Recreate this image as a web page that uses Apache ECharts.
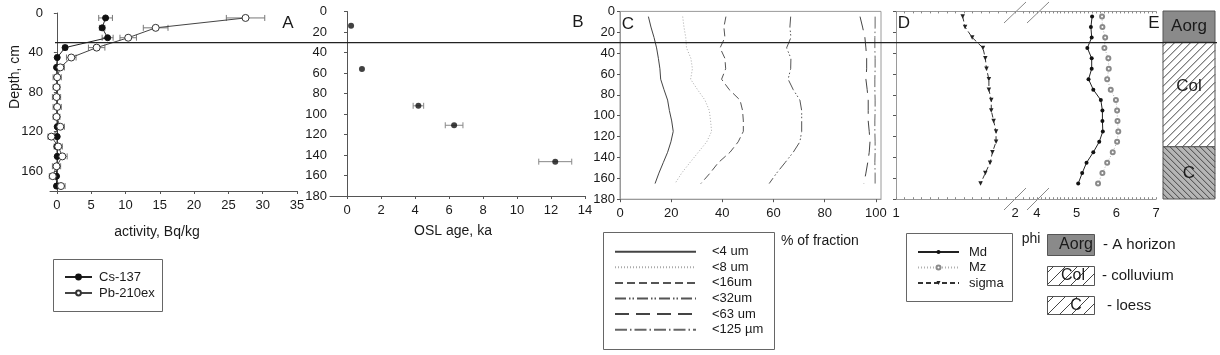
<!DOCTYPE html>
<html><head><meta charset="utf-8">
<script src="https://cdn.jsdelivr.net/npm/echarts@6/dist/echarts.min.js"></script>
<style>html,body{margin:0;padding:0;background:#fff}#c{width:1220px;height:355px}</style>
</head><body><div id="c"></div>
<script>
// ---------- DATA ----------
// Panel A: radionuclide activity profile
const depthsA = [5,15,25,35,45,55,65,75,85,95,105,115,125,135,145,155,165,175];
const cs137 = [7.1,6.6,7.4,1.2,0.05,-0.05,0,0,0,0,0,0.05,0.05,0,0.05,0,-0.05,-0.05];
const cs137Err = [1.0,0.4,0.8,0.3,0.2,0.2,0.2,0.2,0.2,0.2,0.2,0.2,0.2,0.2,0.2,0.2,0.2,0.2];
const pb210 = [27.5,14.4,10.4,5.8,2.1,0.5,0.05,-0.05,-0.05,0.05,-0.05,0.5,-0.8,0.2,0.8,-0.05,-0.6,0.6];
const pb210Err = [2.8,1.8,1.2,1.2,0.7,0.6,0.6,0.5,0.6,0.6,0.5,0.6,0.5,0.6,0.7,0.6,0.5,0.6];
// Panel B: OSL ages
const oslAge = [0.24,0.88,4.2,6.3,12.25];
const oslDepth = [14,56,92,111,146.5];
const oslErr = [0,0,0.31,0.52,0.97];
// Panel C: cumulative grain-size fractions (%)
const depthsC = [5,15,25,35,45,55,65,75,85,95,105,115,125,135,145,155,165];
const frac4 = [11.1,12.1,13.3,14.3,15.0,15.6,15.9,17.2,18.6,19.3,20.2,20.8,19.9,18.6,16.9,15.2,13.7];
const frac8 = [24.5,25.0,25.7,26.0,27.7,28.3,27.6,30.3,33.2,34.9,35.4,35.8,33.9,30.6,27.3,24.1,21.5];
const frac16 = [41.4,40.6,41.0,39.1,41.0,41.3,39.7,42.7,46.9,47.9,48.2,48.2,46.2,43.0,38.4,35.2,31.6];
const frac32 = [66.7,66.4,66.8,65.1,66.8,66.7,65.7,67.7,70.3,71.0,71.0,71.0,70.3,67.7,64.5,61.2,58.3];
const frac63 = [93.8,94.8,95.7,96.1,96.4,96.4,96.1,96.6,97.0,97.0,97.0,97.4,97.7,97.4,96.8,96.1,95.3];
const frac125 = [99.7,99.7,99.6,99.6,99.7,99.7,99.6,99.6,99.7,99.7,99.6,99.6,99.7,99.7,99.6,99.7,99.7];
const fractionNames = ['<4 um','<8 um','<16um','<32um','<63 um','<125 µm'];
// Panel D: grain size parameters (phi)
const mdPhi = [5.39,5.36,5.38,5.27,5.38,5.38,5.30,5.42,5.61,5.65,5.65,5.66,5.57,5.42,5.25,5.14,5.04];
const mzPhi = [5.64,5.65,5.72,5.70,5.80,5.81,5.77,5.86,5.99,6.02,6.03,6.05,6.02,5.91,5.77,5.65,5.54];
const sigmaPhi = [1.56,1.58,1.64,1.73,1.75,1.76,1.78,1.78,1.80,1.80,1.82,1.84,1.84,1.81,1.79,1.75,1.71];
// Panel E: horizons
const horizonNames = ['Aorg','Col','C'];
const horizonTop = [0,30,130];
const horizonBottom = [30,130,180];
const horizonLegend = ['- A horizon','- colluvium','- loess'];
const boundaryDepth = 30;
// Tick labels
const ticksA = [0,5,10,15,20,25,30,35];
const ticksB = [0,2,4,6,8,10,12,14];
const ticksC = [0,20,40,60,80,100];
const ticksD1 = [1,2];
const ticksD2 = [4,5,6,7];
const depthTicksA = [0,40,80,120,160];
const depthTicks = [0,20,40,60,80,100,120,140,160,180];

// ---------- STYLE ----------
const FONT = "'Liberation Sans', Arial, sans-serif";
const TXT = '#1a1a1a';
const AX = '#555';
const FR = '#9a9a9a';
const horizonFill = ['#8a8a8a','#ffffff','#b5b5b5'];
const horizonHatch = [null,'/','\\'];
const horizonSpacing = [0,8,6];
const horizonLabelDy = [0,-8,0];

const chart = echarts.init(document.getElementById('c'), null, {renderer:'canvas'});
const pairs = (xs, ys) => xs.map((v,i)=>[v, ys[i]]);
const seqD1 = []; for (let k=0;k<=15;k++) seqD1.push(1+k/14);
const seqD2 = []; for (let k=38;k<=70;k++) seqD2.push(k/10);

function errRender(color){
  return function(params, api){
    const v = api.value(0), d = api.value(1), e = api.value(2);
    if (!e) return null;
    const a = api.coord([v-e, d]), b = api.coord([v+e, d]);
    const cap = 3, st = {stroke:color, lineWidth:1};
    return {type:'group', children:[
      {type:'line', shape:{x1:a[0],y1:a[1],x2:b[0],y2:b[1]}, style:st},
      {type:'line', shape:{x1:a[0],y1:a[1]-cap,x2:a[0],y2:a[1]+cap}, style:st},
      {type:'line', shape:{x1:b[0],y1:b[1]-cap,x2:b[0],y2:b[1]+cap}, style:st}
    ]};
  };
}
function hatchLines(x0,y0,w,h,dir,s,color){
  const out = [];
  if (dir === '/') {
    for (let c = x0+y0+s/2; c < x0+w+y0+h; c += s) {
      const xa = Math.max(x0, c-(y0+h)), xb = Math.min(x0+w, c-y0);
      if (xb > xa) out.push({type:'line', shape:{x1:xa,y1:c-xa,x2:xb,y2:c-xb}, style:{stroke:color,lineWidth:1}});
    }
  } else {
    for (let c = y0-(x0+w)+s/2; c < y0+h-x0; c += s) {
      const xa = Math.max(x0, y0-c), xb = Math.min(x0+w, y0+h-c);
      if (xb > xa) out.push({type:'line', shape:{x1:xa,y1:xa+c,x2:xb,y2:xb+c}, style:{stroke:color,lineWidth:1}});
    }
  }
  return out;
}
function depthAxis(grid, o){
  return Object.assign({type:'value', gridIndex:grid, inverse:true, min:0, max:180,
    axisLine:{show:true, lineStyle:{color:AX}},
    axisTick:{show:true, length:3, customValues:depthTicks, lineStyle:{color:AX}},
    axisLabel:{show:true, customValues:depthTicks, color:TXT, fontSize:13, fontFamily:FONT, margin:4},
    splitLine:{show:false}}, o);
}
function xAxis(grid, min, max, ticks, o){
  return Object.assign({type:'value', gridIndex:grid, min:min, max:max,
    axisLine:{show:true, onZero:false, lineStyle:{color:AX}},
    axisTick:{show:true, length:3, customValues:ticks, lineStyle:{color:AX}},
    axisLabel:{show:true, customValues:ticks, color:TXT, fontSize:13, fontFamily:FONT, margin:8},
    splitLine:{show:false}}, o);
}

const option = {
  animation:false,
  backgroundColor:'#fff',
  textStyle:{fontFamily:FONT},
  grid:[
    {left:50, top:13, width:247, height:178},
    {left:330, top:11.5, width:255, height:184.5},
    {left:620, top:11.4, width:261, height:187.8, show:true, borderColor:FR, borderWidth:1},
    {left:896, top:11.4, width:131, height:187.8},
    {left:1027, top:11.4, width:129, height:187.8},
    {left:1163, top:11, width:52, height:188}
  ],
  xAxis:[
    xAxis(0,-1,35,ticksA),
    xAxis(1,-1,14,ticksB),
    xAxis(2,0,102,ticksC,{axisLine:{show:true,onZero:false,lineStyle:{color:FR}}}),
    xAxis(3,1,2.1,seqD1,{axisLine:{show:true,onZero:false,lineStyle:{color:FR}},
      axisTick:{show:true,inside:true,length:2,customValues:seqD1,lineStyle:{color:'#888'}},
      axisLabel:{show:true,customValues:ticksD1,color:TXT,fontSize:13,fontFamily:FONT,margin:8}}),
    xAxis(3,1,2.1,seqD1,{position:'top',axisLine:{show:true,onZero:false,lineStyle:{color:FR}},
      axisTick:{show:true,inside:true,length:2,customValues:seqD1,lineStyle:{color:'#888'}},
      axisLabel:{show:false}}),
    xAxis(4,3.75,7,seqD2,{axisLine:{show:true,onZero:false,lineStyle:{color:FR}},
      axisTick:{show:true,inside:true,length:2,customValues:seqD2,lineStyle:{color:'#888'}},
      axisLabel:{show:true,customValues:ticksD2,color:TXT,fontSize:13,fontFamily:FONT,margin:8}}),
    xAxis(4,3.75,7,seqD2,{position:'top',axisLine:{show:true,onZero:false,lineStyle:{color:FR}},
      axisTick:{show:true,inside:true,length:2,customValues:seqD2,lineStyle:{color:'#888'}},
      axisLabel:{show:false}}),
    {type:'value', gridIndex:5, min:0, max:1, show:false}
  ],
  yAxis:[
    depthAxis(0,{axisTick:{show:true,length:3,customValues:depthTicksA,lineStyle:{color:AX}},
      axisLabel:{show:true,customValues:depthTicksA,color:TXT,fontSize:13,fontFamily:FONT,margin:7}}),
    depthAxis(1,{axisLabel:{show:true,customValues:depthTicks,color:TXT,fontSize:13,fontFamily:FONT,margin:3}}),
    depthAxis(2,{axisLine:{show:true,lineStyle:{color:FR}},
      axisLabel:{show:true,customValues:depthTicks,color:TXT,fontSize:13,fontFamily:FONT,margin:5}}),
    depthAxis(3,{axisLine:{show:true,lineStyle:{color:FR}},axisLabel:{show:false}}),
    {type:'value', gridIndex:4, inverse:true, min:0, max:180, show:false},
    {type:'value', gridIndex:5, inverse:true, min:0, max:180, show:false}
  ],
  legend:[
    {data:['Cs-137','Pb-210ex'], orient:'vertical', left:64, top:270, padding:0,
     itemWidth:27, itemHeight:6, itemGap:2, selectedMode:false,
     textStyle:{fontSize:13, lineHeight:14, color:TXT, fontFamily:FONT, padding:[0,0,0,2]}},
    {data:fractionNames, orient:'vertical', left:614, top:244.7, padding:0,
     itemWidth:81, itemHeight:8, itemGap:1.6, selectedMode:false,
     itemStyle:{opacity:0},
     textStyle:{fontSize:13, lineHeight:14, color:TXT, fontFamily:FONT, padding:[0,0,0,11]}},
    {data:['Md','Mz','sigma'], orient:'vertical', left:917, top:245, padding:0,
     itemWidth:41, itemHeight:5, itemGap:1.5, selectedMode:false,
     textStyle:{fontSize:13, lineHeight:14, color:TXT, fontFamily:FONT, padding:[0,0,0,5]}}
  ],
  series:[
    // Panel A
    {type:'custom', name:'csErr', xAxisIndex:0, yAxisIndex:0, z:1, clip:false,
     renderItem:errRender('#777'), encode:{x:0,y:1},
     data:depthsA.map((d,i)=>[cs137[i], d, cs137Err[i]])},
    {type:'custom', name:'pbErr', xAxisIndex:0, yAxisIndex:0, z:1, clip:false,
     renderItem:errRender('#777'), encode:{x:0,y:1},
     data:depthsA.map((d,i)=>[pb210[i], d, pb210Err[i]])},
    {type:'line', name:'Cs-137', xAxisIndex:0, yAxisIndex:0, z:3,
     data:pairs(cs137, depthsA), symbol:'circle', symbolSize:6, showSymbol:true,
     lineStyle:{color:'#222', width:1}, itemStyle:{color:'#111', borderColor:'#111', borderWidth:1}},
    {type:'line', name:'Pb-210ex', xAxisIndex:0, yAxisIndex:0, z:4,
     data:pairs(pb210, depthsA), symbol:'circle', symbolSize:7, showSymbol:true,
     lineStyle:{color:'#444', width:1}, itemStyle:{color:'#fff', borderColor:'#333', borderWidth:1}},
    // Panel B
    {type:'custom', name:'oslErr', xAxisIndex:1, yAxisIndex:1, z:1, clip:false,
     renderItem:errRender('#888'), encode:{x:0,y:1},
     data:oslDepth.map((d,i)=>[oslAge[i], d, oslErr[i]])},
    {type:'scatter', name:'OSL', xAxisIndex:1, yAxisIndex:1, z:3,
     data:pairs(oslAge, oslDepth), symbol:'circle', symbolSize:6, itemStyle:{color:'#111'}},
    // Panel C
    {type:'line', name:fractionNames[0], xAxisIndex:2, yAxisIndex:2, data:pairs(frac4, depthsC),
     symbol:'none', lineStyle:{color:'#444', width:1, type:'solid'}, itemStyle:{color:'#444'}},
    {type:'line', name:fractionNames[1], xAxisIndex:2, yAxisIndex:2, data:pairs(frac8, depthsC),
     symbol:'none', lineStyle:{color:'#aaa', width:1, type:[1,2]}, itemStyle:{color:'#aaa'}},
    {type:'line', name:fractionNames[2], xAxisIndex:2, yAxisIndex:2, data:pairs(frac16, depthsC),
     symbol:'none', lineStyle:{color:'#555', width:1, type:[8,4]}, itemStyle:{color:'#555'}},
    {type:'line', name:fractionNames[3], xAxisIndex:2, yAxisIndex:2, data:pairs(frac32, depthsC),
     symbol:'none', lineStyle:{color:'#555', width:1, type:[11,3,1.5,2,1.5,3]}, itemStyle:{color:'#555'}},
    {type:'line', name:fractionNames[4], xAxisIndex:2, yAxisIndex:2, data:pairs(frac63, depthsC),
     symbol:'none', lineStyle:{color:'#444', width:1, type:[14,7]}, itemStyle:{color:'#444'}},
    {type:'line', name:fractionNames[5], xAxisIndex:2, yAxisIndex:2, data:pairs(frac125, depthsC),
     symbol:'none', lineStyle:{color:'#666', width:1, type:[12,3,1.5,3]}, itemStyle:{color:'#666'}},
    // Panel D
    {type:'line', name:'sigma', xAxisIndex:3, yAxisIndex:3, data:pairs(sigmaPhi, depthsC),
     symbol:'triangle', symbolRotate:180, symbolSize:4.5, showSymbol:true,
     lineStyle:{color:'#333', width:1, type:[5,3]}, itemStyle:{color:'#222'}},
    {type:'line', name:'Md', xAxisIndex:5, yAxisIndex:4, data:pairs(mdPhi, depthsC),
     symbol:'circle', symbolSize:4, showSymbol:true,
     lineStyle:{color:'#222', width:1}, itemStyle:{color:'#111'}},
    {type:'line', name:'Mz', xAxisIndex:5, yAxisIndex:4, data:pairs(mzPhi, depthsC),
     symbol:'emptyCircle', symbolSize:4, showSymbol:true,
     lineStyle:{color:'#b0b0b0', width:1, type:[1,2]}, itemStyle:{color:'#8a8a8a', borderColor:'#8a8a8a', borderWidth:0.8}},
    // Panel E
    {type:'custom', name:'horizons', xAxisIndex:7, yAxisIndex:5, clip:false,
     encode:{y:[1,2]},
     data:horizonNames.map((n,i)=>[i, horizonTop[i], horizonBottom[i]]),
     renderItem:function(params, api){
       const i = api.value(0);
       const p1 = api.coord([0, api.value(1)]), p2 = api.coord([1, api.value(2)]);
       const x = p1[0], y = p1[1], w = p2[0]-p1[0], h = p2[1]-p1[1];
       const ch = [{type:'rect', shape:{x:x,y:y,width:w,height:h}, style:{fill:horizonFill[i], stroke:'#555', lineWidth:1}}];
       if (horizonHatch[i]) hatchLines(x,y,w,h,horizonHatch[i],horizonSpacing[i],'#444').forEach(l=>ch.push(l));
       ch.push({type:'text', x:x+w/2, y:y+h/2+horizonLabelDy[i],
         style:{text:horizonNames[i], fill:'#1a1a1a', font:'17px '+FONT, align:'center', verticalAlign:'middle'}});
       return {type:'group', children:ch};
     }}
  ]
};
chart.setOption(option);

// ---------- decorations (text, legend frames, boundary line) ----------
const yLine = chart.convertToPixel({yAxisIndex:2}, boundaryDepth);
const T = (x,y,t,size,align,extra) => Object.assign({type:'text', x:x, y:y, silent:true,
  style:{text:t, fill:TXT, font:size+'px '+FONT, align:align||'center', verticalAlign:'middle'}}, extra||{});
const G = [];
G.push({type:'line', shape:{x1:55,y1:yLine,x2:1217,y2:yLine}, style:{stroke:'#222', lineWidth:1.2}, z:50});
G.push(T(157,232,'activity, Bq/kg',14));
G.push(T(453,231,'OSL age, ka',14));
G.push(T(781,241,'% of fraction',14,'left'));
G.push(T(1031,239,'phi',14));
G.push(T(15,77,'Depth, cm',14,'center',{rotation:Math.PI/2}));
G.push(T(288,23,'A',17)); G.push(T(578,22,'B',17)); G.push(T(628,24,'C',17));
G.push(T(904,23,'D',17)); G.push(T(1154,23,'E',17));
// legend frames
G.push({type:'rect', shape:{x:53.5,y:259.5,width:109,height:52}, style:{fill:null, stroke:'#666', lineWidth:1}});
G.push({type:'rect', shape:{x:603.5,y:232.5,width:171,height:117}, style:{fill:null, stroke:'#666', lineWidth:1}});
G.push({type:'rect', shape:{x:906.5,y:233.5,width:106,height:68}, style:{fill:null, stroke:'#666', lineWidth:1}});
// axis break marks
[[1004,23,1026,2],[1027,23,1049,2],[1004,210,1026,188],[1027,210,1049,188]].forEach(s=>{
  G.push({type:'line', shape:{x1:s[0],y1:s[1],x2:s[2],y2:s[3]}, style:{stroke:'#888', lineWidth:1}});
});
// horizon legend swatches
const sw = [[1047.5,234.5,47,21],[1047.5,266.5,47,19],[1047.5,296.5,47,18]];
const swText = [[1076,245],[1073,276],[1076,306]];
const swLegendX = [1103,1102,1107];
const swFill = ['#8a8a8a','#ffffff','#ffffff'];
const swHatch = [null,'/','/'];
sw.forEach((r,i)=>{
  G.push({type:'rect', shape:{x:r[0],y:r[1],width:r[2],height:r[3]}, style:{fill:swFill[i], stroke:'#555', lineWidth:1}});
  if (swHatch[i]) hatchLines(r[0],r[1],r[2],r[3],swHatch[i],12,'#444').forEach(l=>G.push(l));
  G.push(T(swText[i][0],swText[i][1],horizonNames[i],16));
  G.push(T(swLegendX[i],swText[i][1],horizonLegend[i],15,'left'));
});
chart.setOption({graphic:G});
</script>
</body></html>
